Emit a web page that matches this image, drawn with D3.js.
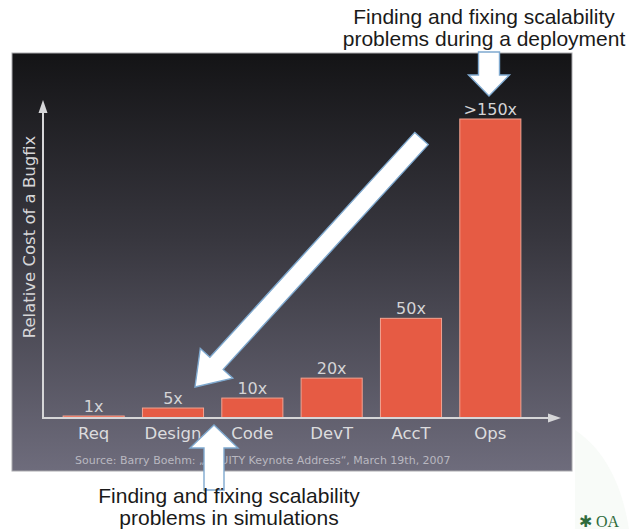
<!DOCTYPE html>
<html>
<head>
<meta charset="utf-8">
<script src="https://cdn.jsdelivr.net/npm/d3@7"></script>
<style>
  html, body { margin: 0; padding: 0; background: #ffffff; }
  svg { display: block; }
</style>
</head>
<body>
<script>
// Relative cost of fixing a bug, by phase in which it is found
const phases = ["Req", "Design", "Code", "DevT", "AccT", "Ops"];
const costFactors = [1, 5, 10, 20, 50, 150];
const valueLabels = ["1x", "5x", "10x", "20x", "50x", ">150x"];
const yAxisTitle = "Relative Cost of a Bugfix";
const sourceNote = "Source: Barry Boehm: \u201EEQUITY Keynote Address\u201C, March 19th, 2007";
const topNote = ["Finding and fixing scalability", "problems during a deployment"];
const bottomNote = ["Finding and fixing scalability", "problems in simulations"];

const W = 629, H = 529;
const svg = d3.select("body").append("svg").attr("width", W).attr("height", H);

const defs = svg.append("defs");
const grad = defs.append("linearGradient").attr("id", "panelGrad")
  .attr("x1", 0).attr("y1", 0).attr("x2", 0).attr("y2", 1);
grad.append("stop").attr("offset", "0%").attr("stop-color", "#141416");
grad.append("stop").attr("offset", "45%").attr("stop-color", "#38373f");
grad.append("stop").attr("offset", "100%").attr("stop-color", "#6e6c7c");

const soft = defs.append("filter").attr("id", "soft")
  .attr("x", "-10%").attr("y", "-10%").attr("width", "120%").attr("height", "120%");
soft.append("feGaussianBlur").attr("stdDeviation", 0.5);

// faint background swoosh at the lower right
svg.append("path")
  .attr("d", "M575,430 C605,450 622,485 629,529 L575,529 Z")
  .attr("fill", "#f8fbf8");

// dark slide panel
const panel = { x: 12, y: 53, w: 560, h: 418 };
svg.append("rect")
  .attr("x", panel.x).attr("y", panel.y)
  .attr("width", panel.w).attr("height", panel.h)
  .attr("fill", "url(#panelGrad)")
  .attr("stroke", "#a9a9ad").attr("stroke-width", 1);

// scales
const x = d3.scaleBand().domain(phases).range([54, 530])
  .paddingInner(0.23).paddingOuter(0.115);
const y = d3.scaleLinear().domain([0, 150]).range([418, 119]);

const chartFont = "'DejaVu Sans', Verdana, sans-serif";
const axisColor = "#d6d6d8";

// bars
const bars = svg.append("g");
bars.selectAll("rect").data(phases).join("rect")
  .attr("x", d => x(d))
  .attr("y", (d, i) => y(costFactors[i]))
  .attr("width", x.bandwidth())
  .attr("height", (d, i) => y(0) - y(costFactors[i]))
  .attr("fill", "#e65b44")
  .attr("stroke", "#f3a391").attr("stroke-width", 1);

// value labels above bars
bars.selectAll("text").data(phases).join("text")
  .attr("x", d => x(d) + x.bandwidth() / 2)
  .attr("y", (d, i) => y(costFactors[i]) - 4)
  .attr("text-anchor", "middle")
  .attr("font-family", chartFont).attr("font-size", 16)
  .attr("fill", "#d4d4d6")
  .text((d, i) => valueLabels[i]);

// category axis
const xAxis = svg.append("g").attr("transform", `translate(0,${y(0)})`)
  .call(d3.axisBottom(x).tickSize(0).tickPadding(7));
xAxis.select(".domain").remove();
xAxis.selectAll("text")
  .attr("font-family", chartFont).attr("font-size", 16.5)
  .attr("fill", "#dcdcde").attr("dy", "0.85em");

// axis lines with arrowheads
const x0 = 43, yBase = y(0), yTop = 100, xEnd = 561;
svg.append("path")
  .attr("d", `M${x0},${yTop + 10} L${x0},${yBase} L${xEnd - 10},${yBase}`)
  .attr("fill", "none").attr("stroke", axisColor).attr("stroke-width", 2);
svg.append("path")
  .attr("d", `M${x0},${yTop} L${x0 + 4.5},${yTop + 13} L${x0 - 4.5},${yTop + 13} Z`)
  .attr("fill", axisColor);
svg.append("path")
  .attr("d", `M${xEnd},${yBase} L${xEnd - 13},${yBase - 4.5} L${xEnd - 13},${yBase + 4.5} Z`)
  .attr("fill", axisColor);

// y-axis title
svg.append("text")
  .attr("transform", `translate(35,237) rotate(-90)`)
  .attr("text-anchor", "middle")
  .attr("font-family", chartFont).attr("font-size", 16.5)
  .attr("fill", "#d6d6d8")
  .text(yAxisTitle);

// source line
svg.append("text")
  .attr("x", 75).attr("y", 464)
  .attr("font-family", chartFont).attr("font-size", 11)
  .attr("fill", "#b9b8c0")
  .text(sourceNote);

// block arrow built along a direction from tail centre to tip
function blockArrow(tail, tip, shaftW, headW, headL) {
  const dx = tip[0] - tail[0], dy = tip[1] - tail[1];
  const len = Math.hypot(dx, dy);
  const ux = dx / len, uy = dy / len;
  const px = -uy, py = ux;
  const bx = tip[0] - ux * headL, by = tip[1] - uy * headL;
  const s = shaftW / 2, h = headW / 2;
  const pts = [
    [tail[0] + px * s, tail[1] + py * s],
    [bx + px * s, by + py * s],
    [bx + px * h, by + py * h],
    tip,
    [bx - px * h, by - py * h],
    [bx - px * s, by - py * s],
    [tail[0] - px * s, tail[1] - py * s]
  ];
  return "M" + pts.map(p => p[0].toFixed(1) + "," + p[1].toFixed(1)).join("L") + "Z";
}

const arrows = svg.append("g").attr("filter", "url(#soft)");
const arrowStyle = sel => sel.attr("fill", "#ffffff")
  .attr("stroke", "#7fa9cf").attr("stroke-width", 1.4).attr("stroke-linejoin", "miter");

// diagonal arrow
arrows.append("path").attr("d", blockArrow([421.5, 138.5], [195, 387], 18, 44, 32)).call(arrowStyle);
// down arrow onto the Ops bar
arrows.append("path").attr("d", blockArrow([489, 52], [489, 96], 21, 41, 21)).call(arrowStyle);
// up arrow below the axis
arrows.append("path").attr("d", blockArrow([214, 490], [214, 425], 20, 48, 23)).call(arrowStyle);

// annotation texts
const noteFont = "'Liberation Sans', Arial, sans-serif";
svg.append("g").selectAll("text").data(topNote).join("text")
  .attr("x", 484).attr("y", (d, i) => 24 + i * 22)
  .attr("text-anchor", "middle")
  .attr("font-family", noteFont).attr("font-size", 21)
  .attr("fill", "#1a1a1a")
  .text(d => d);
svg.append("g").selectAll("text").data(bottomNote).join("text")
  .attr("x", 229).attr("y", (d, i) => 503 + i * 22)
  .attr("text-anchor", "middle")
  .attr("font-family", noteFont).attr("font-size", 21)
  .attr("fill", "#1a1a1a")
  .text(d => d);

// logo mark at the lower right corner
svg.append("text")
  .attr("x", 579).attr("y", 527)
  .attr("font-family", "'Liberation Serif', serif").attr("font-size", 16)
  .attr("fill", "#2f6b3c")
  .text("\u2731 OA");
</script>
</body>
</html>
